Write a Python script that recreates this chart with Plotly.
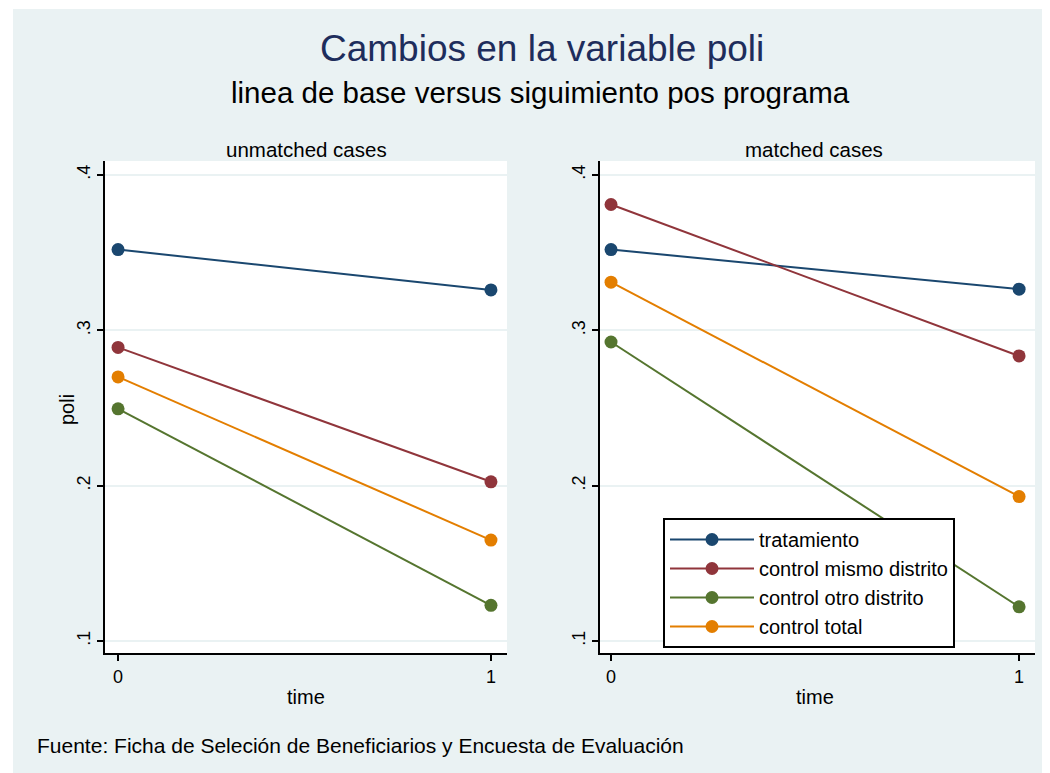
import plotly.graph_objects as go

# ---- data ----
time = [0, 1]
series = ["tratamiento", "control mismo distrito", "control otro distrito", "control total"]
colors = ["#1A476F", "#90353B", "#55752F", "#E37E00"]

unmatched_tratamiento = [0.352, 0.326]
unmatched_mismo = [0.289, 0.2025]
unmatched_otro = [0.2495, 0.123]
unmatched_total = [0.270, 0.165]

matched_tratamiento = [0.352, 0.3265]
matched_mismo = [0.381, 0.2835]
matched_otro = [0.2925, 0.122]
matched_total = [0.331, 0.193]

panel_titles = ["unmatched cases", "matched cases"]
x_ticks = [0, 1]
x_ticklabels = ["0", "1"]
y_ticks = [0.1, 0.2, 0.3, 0.4]
y_ticklabels = [".1", ".2", ".3", ".4"]

unmatched = [unmatched_tratamiento, unmatched_mismo, unmatched_otro, unmatched_total]
matched = [matched_tratamiento, matched_mismo, matched_otro, matched_total]

OFF = 8  # page body margin
W, H = 1050 - OFF, 773 - OFF
BG = "#EAF2F3"
FONT = "Liberation Sans, Arial, sans-serif"

def px(x):
    return (x - OFF) / W

def py(y):
    return 1 - (y - OFF) / H

fig = go.Figure()

for i, name in enumerate(series):
    fig.add_trace(go.Scatter(
        x=time, y=unmatched[i], mode="lines+markers", name=name,
        line=dict(color=colors[i], width=2), marker=dict(color=colors[i], size=13),
        xaxis="x", yaxis="y", legendgroup=name, showlegend=True))
for i, name in enumerate(series):
    fig.add_trace(go.Scatter(
        x=time, y=matched[i], mode="lines+markers", name=name,
        line=dict(color=colors[i], width=2), marker=dict(color=colors[i], size=13),
        xaxis="x2", yaxis="y2", legendgroup=name, showlegend=False))

axis_common = dict(showline=True, linecolor="black", linewidth=2, ticks="outside",
                   ticklen=6, tickwidth=2, tickcolor="black", zeroline=False,
                   tickfont=dict(family=FONT, size=18, color="black"))

ydom = [py(653), py(161)]
yrange = [0.0923, 0.409]
fig.update_layout(
    xaxis=dict(domain=[px(105), px(507)], range=[-0.035, 1.043], tickvals=x_ticks,
               ticktext=x_ticklabels, showgrid=False, anchor="y", **axis_common),
    yaxis=dict(domain=ydom, range=yrange, tickvals=y_ticks, ticktext=y_ticklabels,
               tickangle=-90, showgrid=True, gridcolor=BG, gridwidth=2, anchor="x", **axis_common),
    xaxis2=dict(domain=[px(600), px(1035)], range=[-0.027, 1.039], tickvals=x_ticks,
                ticktext=x_ticklabels, showgrid=False, anchor="y2", **axis_common),
    yaxis2=dict(domain=ydom, range=yrange, tickvals=y_ticks, ticktext=y_ticklabels,
                tickangle=-90, showgrid=True, gridcolor=BG, gridwidth=2, anchor="x2", **axis_common),
)

annotations = [
    dict(text="Cambios en la variable poli", x=px(542), y=py(48), font=dict(size=37, color="#1E2D5C")),
    dict(text="linea de base versus siguimiento pos programa", x=px(540), y=py(92), font=dict(size=29.5, color="black")),
    dict(text=panel_titles[0], x=px(306), y=py(149), font=dict(size=20.5, color="black")),
    dict(text=panel_titles[1], x=px(814), y=py(149), font=dict(size=20.5, color="black")),
    dict(text="time", x=px(306), y=py(697), font=dict(size=20, color="black")),
    dict(text="time", x=px(815), y=py(697), font=dict(size=20, color="black")),
    dict(text="poli", x=px(67), y=py(410), textangle=-90, font=dict(size=20, color="black")),
    dict(text="Fuente: Ficha de Seleción de Beneficiarios y Encuesta de Evaluación",
         x=px(35), y=py(745), xanchor="left", font=dict(size=21, color="black")),
]
for a in annotations:
    a.setdefault("xanchor", "center")
    a.update(xref="paper", yref="paper", yanchor="middle", showarrow=False)
    a["font"]["family"] = FONT

fig.update_layout(
    width=W, height=H,
    margin=dict(l=0, r=0, t=0, b=0, pad=0, autoexpand=False),
    paper_bgcolor=BG, plot_bgcolor="white",
    annotations=annotations,
    shapes=[
        dict(type="rect", xref="paper", yref="paper", x0=0, x1=1, y0=py(9), y1=1,
             fillcolor="white", line=dict(width=0), layer="below"),
        dict(type="rect", xref="paper", yref="paper", x0=0, x1=px(13), y0=0, y1=1,
             fillcolor="white", line=dict(width=0), layer="below"),
    ],
    legend=dict(x=px(663), y=py(518), xanchor="left", yanchor="top",
                bgcolor="white", bordercolor="black", borderwidth=2,
                font=dict(family=FONT, size=20, color="black"),
                itemwidth=84, tracegroupgap=2, traceorder="normal"),
    showlegend=True,
)

fig.write_html("out.html")
